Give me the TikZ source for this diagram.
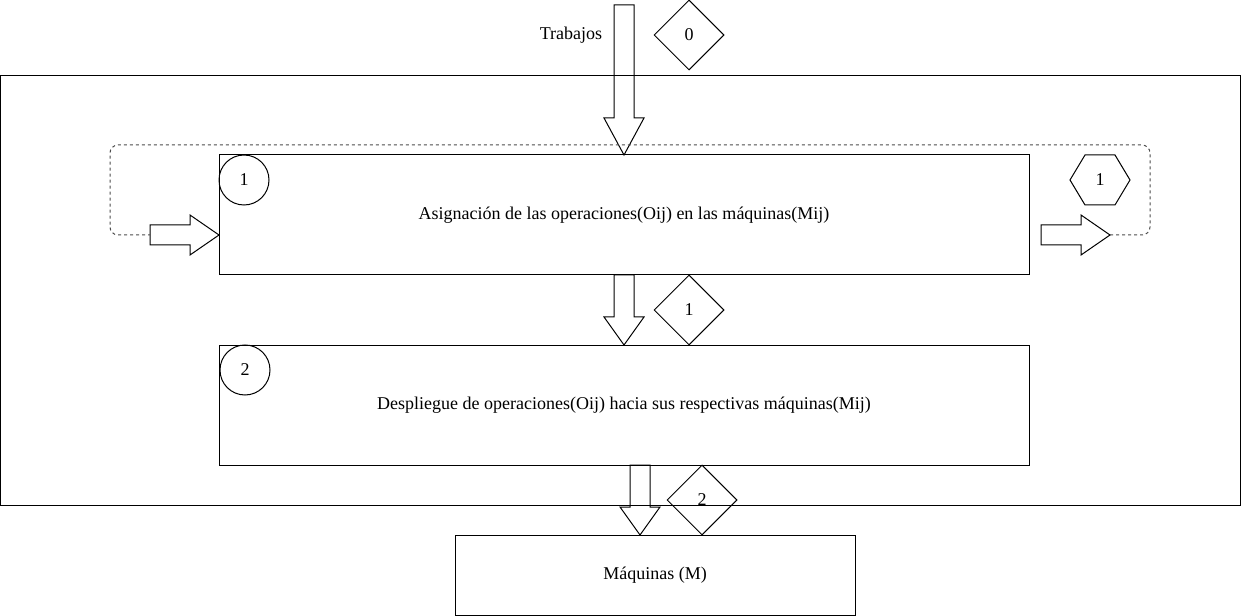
\documentclass[tikz,border=0pt]{standalone}
\usepackage{fontspec}
\setmainfont{Liberation Serif}
\usetikzlibrary{shapes.geometric}
\begin{document}
\begin{tikzpicture}[x=0.75pt,y=-0.75pt,line width=0.75pt,
  font=\fontsize{13.5}{16}\selectfont,
  box/.style={draw,rectangle,inner sep=0pt,minimum width=607.5pt,minimum height=90pt},
  numcirc/.style={draw,circle,inner sep=0pt,minimum size=37.5pt},
  numdiam/.style={draw,diamond,inner sep=0pt,minimum width=52.5pt,minimum height=52.5pt},
  blockarrow/.style={draw,line join=miter},
  loopline/.style={draw=black!70,dash pattern=on 2.25pt off 2.25pt,rounded corners=6pt}]
\useasboundingbox (0,0) rectangle (1241,616);
% outer frame
\draw (0.5,75.5) rectangle (1240,505);
% boxes
\node[box] (b1) at (624,215) {Asignación de las operaciones(Oij) en las máquinas(Mij)};
\node[box] (b2) at (624,405) {Despliegue de operaciones(Oij) hacia sus respectivas máquinas(Mij)};
\node[draw,rectangle,inner sep=0pt,minimum width=300pt,minimum height=60pt] (b3) at (655,575) {Máquinas (M)};
% numbered markers
\node[numcirc] (c1) at (244,180) {1};
\node[numcirc] (c2) at (245,370) {2};
\node[numdiam] (d0) at (689,35) {0};
\node[numdiam] (d1) at (689,310) {1};
\node[numdiam] (d2) at (702,500) {2};
\draw (1070,180) -- (1085,155) -- (1115,155) -- (1130,180) -- (1115,205) -- (1085,205) -- cycle;
\node (h1) at (1100,180) {1};
\node (trab) at (571,35) {Trabajos};
% block arrows
\draw[blockarrow] (614,5) -- (634,5) -- (634,118) -- (644,118) -- (624,155) -- (604,118) -- (614,118) -- cycle;
\draw[blockarrow] (614,275) -- (634,275) -- (634,317) -- (644,317) -- (624,345) -- (604,317) -- (614,317) -- cycle;
\draw[blockarrow] (630,465) -- (650,465) -- (650,507) -- (660,507) -- (640,535) -- (620,507) -- (630,507) -- cycle;
\draw[blockarrow] (150,225) -- (190,225) -- (190,215) -- (219,235) -- (190,255) -- (190,245) -- (150,245) -- cycle;
\draw[blockarrow] (1041,225) -- (1081,225) -- (1081,215) -- (1110,235) -- (1081,255) -- (1081,245) -- (1041,245) -- cycle;
% feedback loop
\coordinate (loopstart) at (1110,235);
\coordinate (loopend) at (150,235);
\draw[loopline] (loopstart) -- (1150,235) -- (1150,145) -- (110,145) -- (110,235) -- (loopend);
\end{tikzpicture}
\end{document}
